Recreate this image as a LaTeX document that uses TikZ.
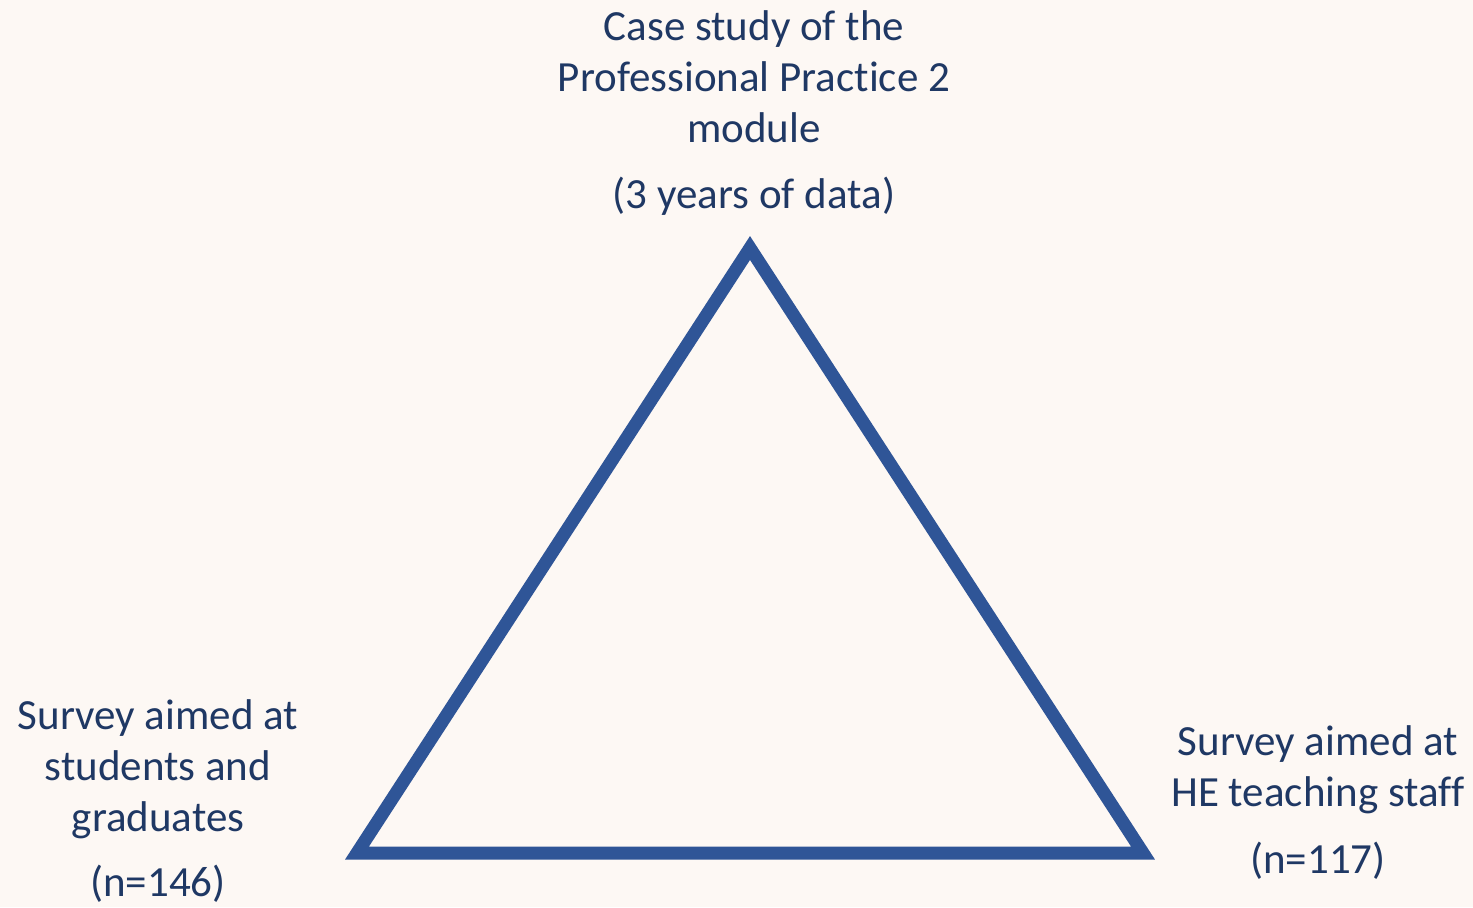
\documentclass[tikz,border=0pt]{standalone}
\usepackage{fontspec}
\setmainfont[RawFeature={-liga}]{Carlito}
\usepackage{xcolor}
\usetikzlibrary{positioning}
\definecolor{bgcream}{HTML}{FDF8F4}
\definecolor{triblue}{HTML}{2F5597}
\definecolor{textnavy}{HTML}{1F3864}

\begin{document}
\begin{tikzpicture}[x=0.5pt, y=-0.5pt,
	lbl/.style={align=center, text=textnavy, inner sep=0pt, anchor=base, font=\fontsize{21.5}{25.5}\selectfont}]
	\fill[bgcream] (0,0) rectangle (1473,907);
	\coordinate (apex) at (750,248);
	\coordinate (bleft) at (357,853);
	\coordinate (bright) at (1143,853);
	
	\draw[triblue, line width=6.5pt, line join=miter] (apex) -- (bleft) -- (bright) -- cycle;
	
	% base anchor sits on the last line
	\node[lbl] (casestudy) at (754,208) {Case study of the\\Professional Practice 2\\module\\[7.5pt](3 years of data)};
	\node[lbl] (students) at (158,896) {Survey aimed at\\students and\\graduates\\[7pt](n=146)};
	\node[lbl] (staff) at (1318,873) {Survey aimed at\\HE teaching staff\\[8pt](n=117)};
\end{tikzpicture}
\end{document}
